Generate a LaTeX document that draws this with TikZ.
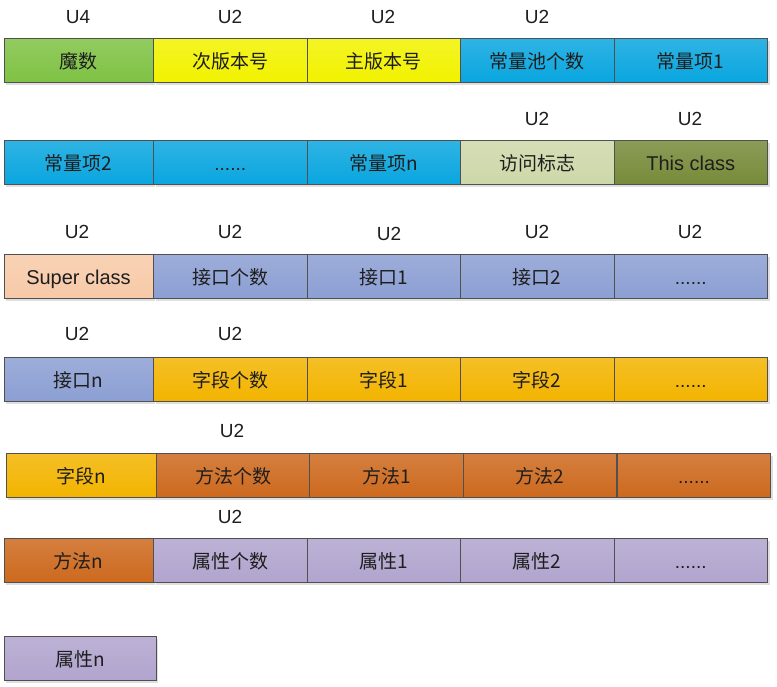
\documentclass[tikz,border=0pt]{standalone}
\usepackage{fontspec}
\setmainfont{Liberation Sans}
\newfontfamily\cjk{Noto Sans CJK SC}
\usetikzlibrary{shadows}
\definecolor{cgreen}{HTML}{7FC244}
\definecolor{cyellow}{HTML}{F2F200}
\definecolor{cblue}{HTML}{0AA6DF}
\definecolor{colive}{HTML}{CDD8A9}
\definecolor{cdolive}{HTML}{778B3A}
\definecolor{cpeach}{HTML}{F7CAA8}
\definecolor{cperi}{HTML}{8C9FD3}
\definecolor{cgold}{HTML}{F3B400}
\definecolor{corange}{HTML}{CD691E}
\definecolor{clav}{HTML}{B1A4CE}
\definecolor{cedge}{HTML}{505050}
\definecolor{ctext}{HTML}{1E1E1E}
\tikzset{
  cell/.style={rectangle, draw=cedge, line width=0.9pt, minimum width=#1, minimum height=44pt,
    inner sep=0pt, text=ctext, font=\fontsize{19}{22}\selectfont,
    text height=16.5pt, text depth=0.5pt,
    drop shadow={shadow xshift=2pt, shadow yshift=-2.5pt, opacity=0.25}},
  cell/.default=153.5pt,
  lat/.style={font=\fontsize{20}{22}\selectfont},
  fc/.style={top color=#1!85!white, bottom color=#1},
  ulabel/.style={font=\fontsize{19}{22}\selectfont, text=ctext, inner sep=0pt}
}
\begin{document}
\begin{tikzpicture}[x=1pt,y=-1pt]
\useasboundingbox (0,0) rectangle (777,686);
% row 1
\node[ulabel] (l1a) at (78,17) {U4};
\node[ulabel] (l1b) at (230,17) {U2};
\node[ulabel] (l1c) at (383,17) {U2};
\node[ulabel] (l1d) at (537,17) {U2};
\node[cell=149pt, fc=cgreen] (r1a) at (78.5,60) {\cjk 魔数};
\node[cell, fc=cyellow] (r1b) at (230.25,60) {\cjk 次版本号};
\node[cell, fc=cyellow] (r1c) at (383.75,60) {\cjk 主版本号};
\node[cell, fc=cblue] (r1d) at (537.25,60) {\cjk 常量池个数};
\node[cell, fc=cblue] (r1e) at (690.75,60) {\cjk 常量项1};
% row 2
\node[ulabel] (l2d) at (537,119) {U2};
\node[ulabel] (l2e) at (690,119) {U2};
\node[cell=149pt, fc=cblue] (r2a) at (78.5,162) {\cjk 常量项2};
\node[cell, fc=cblue] (r2b) at (230.25,162) {......};
\node[cell, fc=cblue] (r2c) at (383.75,162) {\cjk 常量项n};
\node[cell, fc=colive] (r2d) at (537.25,162) {\cjk 访问标志};
\node[cell, fc=cdolive, lat] (r2e) at (690.75,162) {This class};
% row 3
\node[ulabel] (l3a) at (77,232) {U2};
\node[ulabel] (l3b) at (230,232) {U2};
\node[ulabel] (l3c) at (389,234) {U2};
\node[ulabel] (l3d) at (537,232) {U2};
\node[ulabel] (l3e) at (690,232) {U2};
\node[cell=149pt, fc=cpeach, lat] (r3a) at (78.5,276) {Super class};
\node[cell, fc=cperi] (r3b) at (230.25,276) {\cjk 接口个数};
\node[cell, fc=cperi] (r3c) at (383.75,276) {\cjk 接口1};
\node[cell, fc=cperi] (r3d) at (537.25,276) {\cjk 接口2};
\node[cell, fc=cperi] (r3e) at (690.75,276) {......};
% row 4
\node[ulabel] (l4a) at (77,334) {U2};
\node[ulabel] (l4b) at (230,334) {U2};
\node[cell=149pt, fc=cperi] (r4a) at (78.5,379) {\cjk 接口n};
\node[cell, fc=cgold] (r4b) at (230.25,379) {\cjk 字段个数};
\node[cell, fc=cgold] (r4c) at (383.75,379) {\cjk 字段1};
\node[cell, fc=cgold] (r4d) at (537.25,379) {\cjk 字段2};
\node[cell, fc=cgold] (r4e) at (690.75,379) {......};
% row 5
\node[ulabel] (l5b) at (232,431) {U2};
\node[cell=150pt, fc=cgold] (r5a) at (81,475) {\cjk 字段n};
\node[cell, fc=corange] (r5b) at (233,475) {\cjk 方法个数};
\node[cell, fc=corange] (r5c) at (386.5,475) {\cjk 方法1};
\node[cell, fc=corange] (r5d) at (540,475) {\cjk 方法2};
\node[cell, fc=corange] (r5e) at (694,475) {......};
% row 6
\node[ulabel] (l6b) at (230,517) {U2};
\node[cell=149pt, fc=corange] (r6a) at (78.5,560) {\cjk 方法n};
\node[cell, fc=clav] (r6b) at (230.25,560) {\cjk 属性个数};
\node[cell, fc=clav] (r6c) at (383.75,560) {\cjk 属性1};
\node[cell, fc=clav] (r6d) at (537.25,560) {\cjk 属性2};
\node[cell, fc=clav] (r6e) at (690.75,560) {......};
% row 7
\node[cell=152pt, fc=clav] (r7a) at (80,658) {\cjk 属性n};
\end{tikzpicture}
\end{document}
